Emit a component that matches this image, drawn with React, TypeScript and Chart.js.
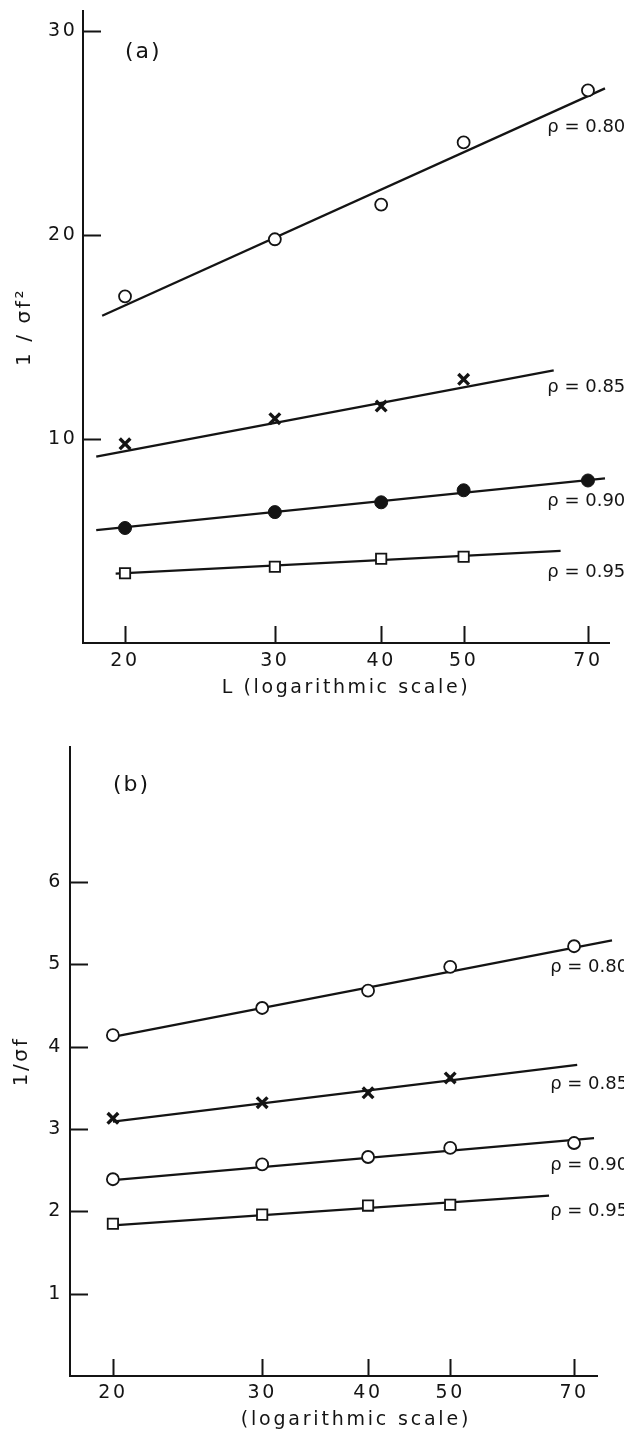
import React, { useEffect, useRef } from 'react';
import { Chart, registerables } from 'chart.js';

Chart.register(...registerables);

// ---------- data ----------
const lAll = [20, 30, 40, 50, 70];
const lFour = [20, 30, 40, 50];
const xTickValues = [20, 30, 40, 50, 70];
const rhoLabels = ['ρ = 0.80', 'ρ = 0.85', 'ρ = 0.90', 'ρ = 0.95'];

// panel (a): 1/σf²
const a080 = [17.0, 19.8, 21.5, 24.55, 27.1];
const a085 = [9.77, 11.0, 11.62, 12.93];
const a090 = [5.64, 6.42, 6.9, 7.49, 7.97];
const a095 = [3.42, 3.74, 4.13, 4.23];
const aFitL080 = [18.8, 73.3];
const aFitY080 = [16.05, 27.2];
const aFitL085 = [18.5, 63.8];
const aFitY085 = [9.14, 13.37];
const aFitL090 = [18.5, 73.3];
const aFitY090 = [5.54, 8.07];
const aFitL095 = [19.5, 65.0];
const aFitY095 = [3.4, 4.52];
const aYTicks = [10, 20, 30];
const aLabelY = [25.3, 12.55, 6.95, 3.45];

// panel (b): 1/σf
const b080 = [4.14, 4.47, 4.68, 4.97, 5.22];
const b085 = [3.13, 3.32, 3.44, 3.62];
const b090 = [2.39, 2.57, 2.66, 2.77, 2.83];
const b095 = [1.85, 1.96, 2.07, 2.08];
const bFitL080 = [20, 77.6];
const bFitY080 = [4.12, 5.29];
const bFitL085 = [20, 70.6];
const bFitY085 = [3.09, 3.78];
const bFitL090 = [20, 73.9];
const bFitY090 = [2.38, 2.89];
const bFitL095 = [20, 65.4];
const bFitY095 = [1.83, 2.19];
const bYTicks = [1, 2, 3, 4, 5, 6];
const bLabelY = [4.96, 3.54, 2.56, 2.0];

// ---------- styling ----------
const FONT = "'DejaVu Sans', sans-serif";
const INK = '#141414';

type Series = { x: number[]; y: number[]; style: string; radius: number; fill: string; bw: number };
type Fit = { x: number[]; y: number[] };
type Panel = {
  height: number;
  padTop: number;
  padRight: number;
  yAxisW: number;
  xAxisH: number;
  xMin: number;
  xMax: number;
  yMax: number;
  yTicks: number[];
  xTickPad: number;
  xTitlePad: number;
  yTickPad: number;
  yTitlePad: number;
  yTitleSize: number;
  xTitle: string;
  xTitleNative: boolean;
  xTitleAt: number[];
  yTitle: string;
  tag: string;
  tagAt: number[];
  labelL: number;
  labelY: number[];
  series: Series[];
  fits: Fit[];
};

const openCircle = (x: number[], y: number[]): Series => ({ x, y, style: 'circle', radius: 6, fill: '#ffffff', bw: 1.8 });
const cross = (x: number[], y: number[]): Series => ({ x, y, style: 'crossRot', radius: 7.5, fill: INK, bw: 3.4 });
const dot = (x: number[], y: number[]): Series => ({ x, y, style: 'circle', radius: 6.5, fill: INK, bw: 1 });
const square = (x: number[], y: number[]): Series => ({ x, y, style: 'rect', radius: 7.3, fill: '#ffffff', bw: 1.8 });

const panelA: Panel = {
  height: 715,
  padTop: 5,
  padRight: 15,
  yAxisW: 83,
  xAxisH: 72,
  xMin: 17.85,
  xMax: 74.1,
  yMax: 31,
  yTicks: aYTicks,
  xTickPad: 6.6,
  xTitlePad: 15.6,
  yTickPad: 5.5,
  yTitlePad: 13,
  yTitleSize: 20,
  xTitle: 'L (logarithmic scale)',
  xTitleNative: true,
  xTitleAt: [0, 0],
  yTitle: '1 / σf²',
  tag: '(a)',
  tagAt: [20, 28.97],
  labelL: 62.7,
  labelY: aLabelY,
  series: [openCircle(lAll, a080), cross(lFour, a085), dot(lAll, a090), square(lFour, a095)],
  fits: [
    { x: aFitL080, y: aFitY080 },
    { x: aFitL085, y: aFitY085 },
    { x: aFitL090, y: aFitY090 },
    { x: aFitL095, y: aFitY095 },
  ],
};

const panelB: Panel = {
  height: 716,
  padTop: 32,
  padRight: 27,
  yAxisW: 70,
  xAxisH: 55,
  xMin: 17.8,
  xMax: 74.5,
  yMax: 7.64,
  yTicks: bYTicks,
  xTickPad: 5.6,
  xTitlePad: 0,
  yTickPad: 7,
  yTitlePad: 10,
  yTitleSize: 20,
  xTitle: '(logarithmic scale)',
  xTitleNative: false,
  xTitleAt: [38.7, -0.53],
  yTitle: '1/σf',
  tag: '(b)',
  tagAt: [20, 7.18],
  labelL: 65.6,
  labelY: bLabelY,
  series: [openCircle(lAll, b080), cross(lFour, b085), openCircle(lAll, b090), square(lFour, b095)],
  fits: [
    { x: bFitL080, y: bFitY080 },
    { x: bFitL085, y: bFitY085 },
    { x: bFitL090, y: bFitY090 },
    { x: bFitL095, y: bFitY095 },
  ],
};

function decorPlugin(p: Panel) {
  return {
    id: 'decor',
    beforeUpdate(chart: any) {
      chart.ctx.letterSpacing = '2.6px';
    },
    beforeDraw(chart: any) {
      chart.ctx.letterSpacing = '2.6px';
    },
    afterDraw(chart: any) {
      const { ctx, chartArea } = chart;
      const xs = chart.scales.x;
      const ys = chart.scales.y;
      ctx.save();
      ctx.strokeStyle = INK;
      ctx.lineWidth = 2;
      ctx.beginPath();
      p.yTicks.forEach((v) => {
        const py = Math.round(ys.getPixelForValue(v)) + 0.5;
        ctx.moveTo(chartArea.left, py);
        ctx.lineTo(chartArea.left + 18, py);
      });
      xTickValues.forEach((v) => {
        const px = Math.round(xs.getPixelForValue(v)) + 0.5;
        ctx.moveTo(px, chartArea.bottom);
        ctx.lineTo(px, chartArea.bottom - 17);
      });
      ctx.stroke();

      ctx.fillStyle = INK;
      ctx.textBaseline = 'middle';

      if (!p.xTitleNative) {
        ctx.textAlign = 'center';
        ctx.letterSpacing = '2.8px';
        ctx.font = `19px ${FONT}`;
        ctx.fillText(p.xTitle, xs.getPixelForValue(p.xTitleAt[0]), ys.getPixelForValue(p.xTitleAt[1]));
      }

      ctx.textAlign = 'left';
      ctx.letterSpacing = '2px';
      ctx.font = `22px ${FONT}`;
      ctx.fillText(p.tag, xs.getPixelForValue(p.tagAt[0]), ys.getPixelForValue(p.tagAt[1]));

      ctx.letterSpacing = '0px';
      ctx.font = `18px ${FONT}`;
      rhoLabels.forEach((t, i) => {
        ctx.fillText(t, xs.getPixelForValue(p.labelL), ys.getPixelForValue(p.labelY[i]));
      });
      ctx.restore();
    },
  };
}

function makeConfig(p: Panel): any {
  const pointSets = p.series.map((s, i) => ({
    label: rhoLabels[i],
    data: s.x.map((x, j) => ({ x, y: s.y[j] })),
    showLine: false,
    pointStyle: s.style,
    pointRadius: s.radius,
    pointHoverRadius: s.radius,
    pointBackgroundColor: s.fill,
    pointBorderColor: INK,
    pointBorderWidth: s.bw,
    order: 0,
  }));
  const lineSets = p.fits.map((f, i) => ({
    label: 'fit ' + rhoLabels[i],
    data: f.x.map((x, j) => ({ x, y: f.y[j] })),
    showLine: true,
    borderColor: INK,
    borderWidth: 2.3,
    pointRadius: 0,
    pointHoverRadius: 0,
    clip: false,
    order: 1,
  }));
  const tickFont = { family: FONT, size: 19 };
  return {
    type: 'scatter',
    data: { datasets: [...pointSets, ...lineSets] },
    options: {
      animation: false,
      responsive: false,
      events: [],
      layout: { padding: { top: p.padTop, right: p.padRight, left: 0, bottom: 0 } },
      plugins: { legend: { display: false }, tooltip: { enabled: false } },
      scales: {
        x: {
          type: 'logarithmic',
          min: p.xMin,
          max: p.xMax,
          bounds: 'data',
          afterBuildTicks: (s: any) => {
            s.ticks = xTickValues.map((v) => ({ value: v }));
          },
          afterFit: (s: any) => {
            s.height = p.xAxisH;
            s.paddingLeft = 0;
            s.paddingRight = 0;
          },
          ticks: {
            autoSkip: false,
            maxRotation: 0,
            minRotation: 0,
            padding: p.xTickPad,
            color: INK,
            font: tickFont,
            callback: (v: any) => String(v),
          },
          grid: { display: false, drawTicks: false },
          border: { display: true, color: INK, width: 2 },
          title: {
            display: p.xTitleNative,
            text: p.xTitle,
            color: INK,
            font: { family: FONT, size: 19 },
            padding: { top: 0, bottom: p.xTitlePad },
          },
        },
        y: {
          type: 'linear',
          min: 0,
          max: p.yMax,
          bounds: 'data',
          afterBuildTicks: (s: any) => {
            s.ticks = p.yTicks.map((v) => ({ value: v }));
          },
          afterFit: (s: any) => {
            s.width = p.yAxisW;
            s.paddingTop = 0;
            s.paddingBottom = 0;
          },
          ticks: {
            padding: p.yTickPad,
            color: INK,
            font: tickFont,
            callback: (v: any) => String(v),
          },
          grid: { display: false, drawTicks: false },
          border: { display: true, color: INK, width: 2 },
          title: {
            display: true,
            text: p.yTitle,
            color: INK,
            font: { family: FONT, size: p.yTitleSize },
            padding: { top: p.yTitlePad, bottom: 0 },
          },
        },
      },
    },
    plugins: [decorPlugin(p)],
  };
}

function PanelChart({ panel }: { panel: Panel }) {
  const ref = useRef<HTMLCanvasElement | null>(null);
  useEffect(() => {
    if (!ref.current) return;
    const chart = new Chart(ref.current, makeConfig(panel));
    return () => chart.destroy();
  }, [panel]);
  return <canvas ref={ref} width={624} height={panel.height} style={{ display: 'block', width: 624, height: panel.height }} />;
}

export default function App() {
  return (
    <div style={{ position: 'absolute', left: 0, top: 0, width: 624, height: 1431, background: '#ffffff' }}>
      <PanelChart panel={panelA} />
      <PanelChart panel={panelB} />
    </div>
  );
}
